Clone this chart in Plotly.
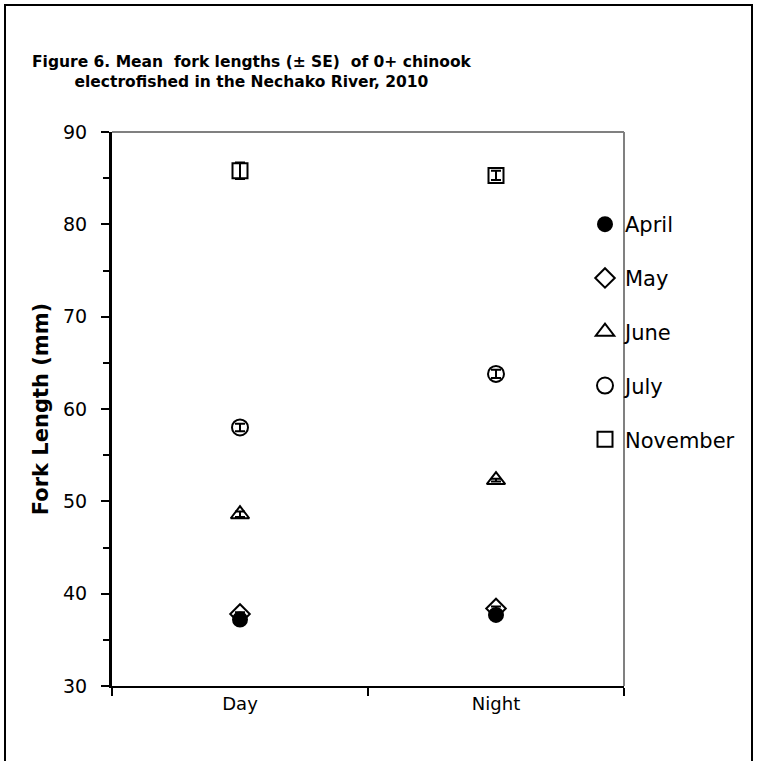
import plotly.graph_objects as go

# Sampling period (x categories)
periods = ["Day", "Night"]

# Mean fork length (mm) and standard error per month
april_mean = [37.2, 37.7]
april_se = [0.2, 0.2]
may_mean = [37.8, 38.4]
may_se = [0.2, 0.2]
june_mean = [48.6, 52.3]
june_se = [0.3, 0.15]
july_mean = [58.0, 63.8]
july_se = [0.4, 0.45]
november_mean = [85.8, 85.3]
november_se = [0.9, 0.5]

y_ticks = [30, 40, 50, 60, 70, 80, 90]

FONT = "DejaVu Sans"

W, H = 759, 761
ML, MR, MT, MB = 112, 135, 132, 75
PW, PH = W - ML - MR, H - MT - MB


def px_x(p):
    return (p - ML) / PW


def px_y(p):
    return (H - MB - p) / PH


# drawn bottom-to-top: April last so it sits on top of May
series = [
    ("November", november_mean, november_se, "square-open", 15, 5),
    ("July", july_mean, july_se, "circle-open", 16, 4),
    ("June", june_mean, june_se, "triangle-up-open", 16, 3),
    ("May", may_mean, may_se, "diamond-open", 15, 2),
    ("April", april_mean, april_se, "circle", 14, 1),
]

fig = go.Figure()
for name, mean, se, sym, size, rank in series:
    fig.add_trace(go.Scatter(
        x=periods, y=mean, name=name, mode="markers",
        legendgroup=name, legendrank=rank,
        marker=dict(symbol=sym, size=size, color="black",
                    line=dict(color="black", width=2)),
        error_y=dict(type="data", array=se, visible=True,
                     color="black", thickness=2, width=5),
    ))

# Plot-area border (top and right) in grey
fig.add_shape(type="line", xref="paper", yref="paper", x0=0, x1=1, y0=1, y1=1,
              line=dict(color="#808080", width=2), layer="below")
fig.add_shape(type="line", xref="paper", yref="paper", x0=1, x1=1, y0=0, y1=1,
              line=dict(color="#808080", width=2), layer="below")
# Outer chart frame
fig.add_shape(type="rect", xref="paper", yref="paper",
              x0=px_x(5), x1=px_x(752), y0=px_y(765), y1=px_y(5),
              line=dict(color="black", width=2))

fig.add_annotation(
    text="<b>Figure 6. Mean  fork lengths (± SE)  of 0+ chinook<br>electrofished in the Nechako River, 2010</b>",
    xref="paper", yref="paper", x=px_x(252), y=px_y(72), xanchor="center", yanchor="middle",
    showarrow=False, align="center", font=dict(family=FONT, size=15.5, color="black"),
)

fig.update_xaxes(
    type="category", range=[-0.5, 1.5],
    showline=True, linecolor="black", linewidth=2,
    ticks="outside", tickson="boundaries", ticklen=8, tickwidth=2, tickcolor="black",
    showgrid=False, zeroline=False,
    tickfont=dict(family=FONT, size=18, color="black"),
)
fig.update_yaxes(
    range=[30, 90], tickvals=y_ticks,
    showline=True, linecolor="black", linewidth=3,
    ticks="outside", ticklen=8, tickwidth=2, tickcolor="black",
    minor=dict(dtick=5, ticks="outside", ticklen=6, tickwidth=2, tickcolor="black"),
    showgrid=False, zeroline=False, ticklabelstandoff=10,
    tickfont=dict(family=FONT, size=19, color="black"),
    title=dict(text="<b>Fork Length (mm)</b>", standoff=9,
               font=dict(family=FONT, size=21, color="black")),
)

fig.update_layout(
    width=W, height=H,
    margin=dict(l=ML, r=MR, t=MT, b=MB),
    paper_bgcolor="white", plot_bgcolor="white",
    showlegend=True,
    legend=dict(
        x=px_x(585), y=px_y(204), xanchor="left", yanchor="top",
        traceorder="grouped", tracegroupgap=23.5,
        itemwidth=30, itemsizing="trace",
        font=dict(family=FONT, size=21, color="black"),
        bgcolor="rgba(0,0,0,0)",
    ),
)

fig.write_html("out.html")
